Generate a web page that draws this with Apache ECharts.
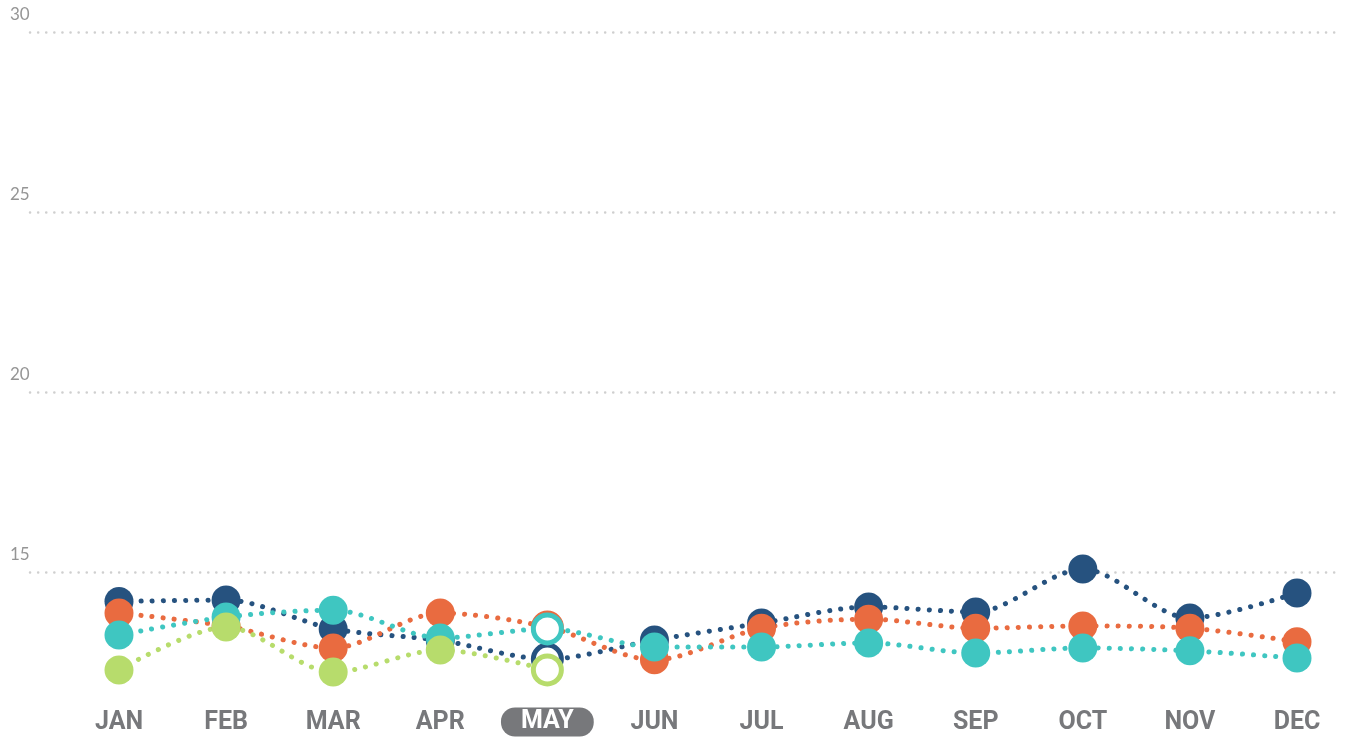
<!DOCTYPE html>
<html>
<head>
<meta charset="utf-8">
<script src="https://cdn.jsdelivr.net/npm/echarts@6/dist/echarts.min.js"></script>
<style>
    html, body { margin: 0; padding: 0; background: #fff; overflow: hidden; }
    #chartContainer { width: 1350px; height: 760px; }
</style>
</head>
<body>
<div id="chartContainer"></div>
<script>
'use strict';
const months = ['JAN', 'FEB', 'MAR', 'APR', 'MAY', 'JUN', 'JUL', 'AUG', 'SEP', 'OCT', 'NOV', 'DEC'];
const highlightMonth = 'MAY';
const yTicks = [10, 15, 20, 25, 30];

const navyValues   = [14.18, 14.22, 13.42, 13.10, 12.58, 13.11, 13.58, 14.03, 13.89, 15.08, 13.72, 14.42];
const orangeValues = [13.86, 13.50, 12.89, 13.86, 13.47, 12.56, 13.44, 13.69, 13.44, 13.50, 13.44, 13.06];
const tealValues   = [13.25, 13.75, 13.94, 13.17, 13.42, 12.92, 12.92, 13.03, 12.75, 12.89, 12.81, 12.61];
const greenValues  = [12.28, 13.47, 12.22, 12.83, 12.28];

const labelFont = "Roboto, 'Liberation Sans', sans-serif";

let initChart = (function() {
    let chartContainer = document.getElementById('chartContainer');
    let demoChart = echarts.init(chartContainer);

    let makeSeries = function(name, values, color) {
        return {
            name: name,
            type: 'line',
            xAxisIndex: 1,
            yAxisIndex: 1,
            smooth: 0.3,
            symbol: 'circle',
            symbolSize: 29,
            showAllSymbol: true,
            lineStyle: {
                color: color,
                width: 5,
                type: [0.1, 11],
                cap: 'round'
            },
            itemStyle: {
                color: color
            },
            data: values.map(function(v, i) {
                if (months[i] !== highlightMonth) return v;
                return {
                    value: v,
                    symbolSize: 28,
                    itemStyle: { color: '#fff', borderColor: color, borderWidth: 5 }
                };
            }),
            emphasis: { disabled: true },
            animation: false
        };
    };

    let option = {
        backgroundColor: '#fff',
        grid: [{
            left: 30,
            right: 10,
            top: 32,
            bottom: 8
        }, {
            left: 119,
            right: 53,
            top: 32,
            bottom: 8
        }],
        xAxis: [{
            gridIndex: 0,
            type: 'value',
            show: false
        }, {
            gridIndex: 1,
            type: 'category',
            data: months,
            boundaryGap: false,
            axisLine: { show: false },
            axisTick: { show: false },
            axisLabel: {
                interval: 0,
                margin: -42,
                verticalAlign: 'top',
                fontFamily: labelFont,
                fontWeight: 'bold',
                fontSize: 25,
                color: '#77787b',
                formatter: function(value) {
                    return value === highlightMonth ? '{hl|' + value + '}' : value;
                },
                rich: {
                    hl: {
                        fontFamily: labelFont,
                        fontWeight: 'bold',
                        fontSize: 25,
                        lineHeight: 24,
                        color: '#fff',
                        backgroundColor: '#77787b',
                        borderRadius: 14,
                        padding: [2, 20, 2, 20]
                    }
                }
            }
        }],
        yAxis: [{
            gridIndex: 0,
            type: 'value',
            min: yTicks[0],
            max: yTicks[yTicks.length - 1],
            interval: 5,
            axisLine: { show: false },
            axisTick: { show: false },
            axisLabel: {
                showMinLabel: false,
                margin: 20,
                align: 'left',
                verticalAlign: 'bottom',
                padding: [0, 0, 9, 0],
                fontFamily: 'Lato',
                fontSize: 17,
                color: '#959595'
            },
            splitLine: {
                lineStyle: {
                    color: '#cfcfcf',
                    width: 2.5,
                    type: [0.1, 8],
                    cap: 'round'
                }
            }
        }, {
            gridIndex: 1,
            type: 'value',
            min: yTicks[0],
            max: yTicks[yTicks.length - 1],
            interval: 5,
            show: false,
            splitLine: { show: false }
        }],
        series: [
            makeSeries('Navy', navyValues, '#26527f'),
            makeSeries('Orange', orangeValues, '#e96b40'),
            makeSeries('Teal', tealValues, '#3fc6c1'),
            makeSeries('Green', greenValues, '#b7dc6c')
        ]
    };

    demoChart.setOption(option);
})();
</script>
</body>
</html>
